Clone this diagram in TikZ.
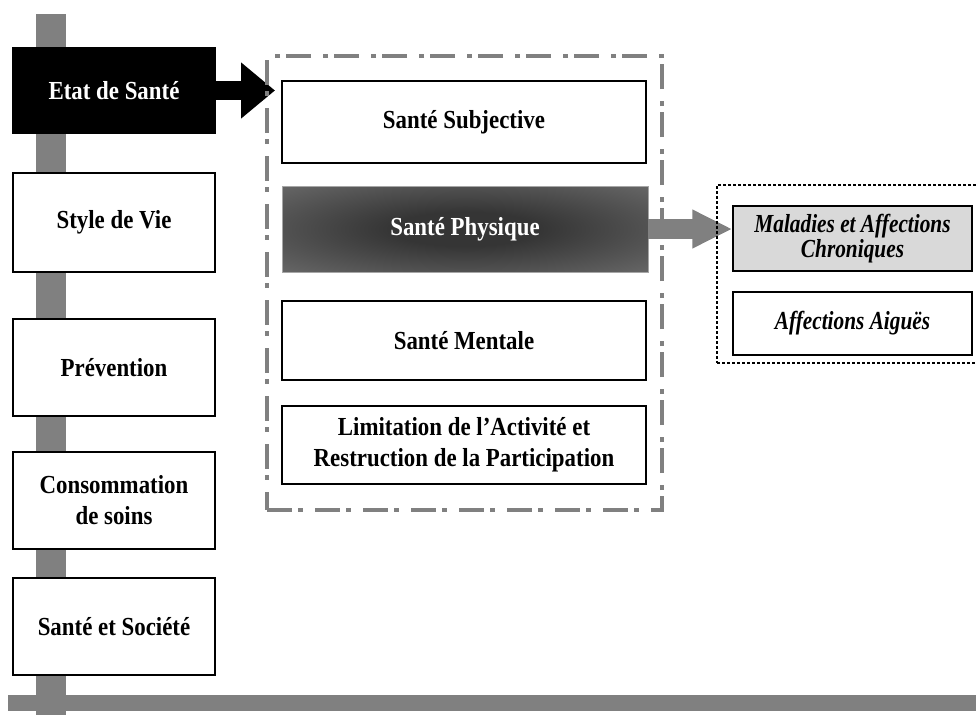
\documentclass[tikz,border=0pt]{standalone}
\usepackage{fontspec}
\setmainfont{Liberation Serif}
\newfontfamily\uprfont[FakeStretch=0.88]{Liberation Serif}
\newfontfamily\itlfont[FakeStretch=0.82]{Liberation Serif}
\usetikzlibrary{arrows.meta}
\definecolor{bargray}{HTML}{808080}
\definecolor{physdark}{HTML}{353535}
\definecolor{physedge}{HTML}{828282}
\definecolor{lightfill}{HTML}{D9D9D9}
\pgfdeclareradialshading{physshade}{\pgfpoint{0bp}{0bp}}{color(0bp)=(physdark); color(10bp)=(physdark); color(50bp)=(physedge); color(72bp)=(physedge)}
\begin{document}
\begin{tikzpicture}[x=1pt,y=-1pt,
  box/.style={rectangle, draw=black, line width=1.4pt, fill=white, inner sep=2pt, align=center,
    font=\uprfont\fontsize{26}{31}\selectfont\bfseries},
  leftbox/.style={box, minimum width=202pt, minimum height=97pt},
  midbox/.style={box, minimum width=364pt},
  rightbox/.style={box, minimum width=239pt, font=\itlfont\fontsize{26}{22}\selectfont\bfseries\itshape},
  bar/.style={fill=bargray, draw=none},
  blockarrow/.style={line width=19pt, draw=black, -{Triangle[length=34pt,width=54pt]}},
  grayarrow/.style={line width=20pt, draw=bargray, -{Triangle[length=40pt,width=36pt]}},
  dashframe/.style={rectangle, draw=bargray, line width=4.5pt, dash pattern=on 25pt off 6pt on 5pt off 12pt},
  dotframe/.style={rectangle, draw=black, line width=2.5pt, dash pattern=on 3pt off 2pt}
]
\useasboundingbox (0,0) rectangle (976,715);
% bars
\fill[bar] (36,14) rectangle (66,715);
\fill[bar] (8,695) rectangle (976,711);
% left column
\node[leftbox, fill=black, text=white, minimum height=85pt] (etat) at (114,90.5) {Etat de Santé};
\node[leftbox, minimum height=99pt] (style) at (114,222.5) {Style de Vie};
\node[leftbox] (prev) at (114,367.5) {Prévention};
\node[leftbox] (cons) at (114,500.5) {Consommation\\de soins};
\node[leftbox] (soc) at (114,626.5) {Santé et Société};
% middle column
\node[midbox, minimum height=82pt] (subj) at (464,122) {Santé Subjective};
\node[midbox, minimum width=366pt, minimum height=86pt, draw=gray!70, line width=0.8pt,
      shading=physshade, text=white] (phys) at (465,229) {Santé Physique};
\node[midbox, minimum height=79pt] (ment) at (464,340.5) {Santé Mentale};
\node[midbox, minimum height=78pt] (lim) at (464,445) {Limitation de l’Activité et\\Restruction de la Participation};
% right column
\node[rightbox, fill=lightfill, minimum height=65pt] (mal) at (852.5,238.5) {Maladies et Affections\\Chroniques};
\node[rightbox, minimum height=63pt] (aig) at (852.5,323.5) {Affections Aiguës};
% arrows
\coordinate (etip) at (275,90.5);
\draw[blockarrow] (etat.east) -- (etip);
\draw[grayarrow] (phys.east) -- (phys.east -| mal.west);
% frames
\node[dashframe, minimum width=395pt, minimum height=454pt] (dbox) at (464.5,283) {};
\node[dotframe, minimum width=268pt, minimum height=178pt] (obox) at (851,274) {};
\end{tikzpicture}
\end{document}
